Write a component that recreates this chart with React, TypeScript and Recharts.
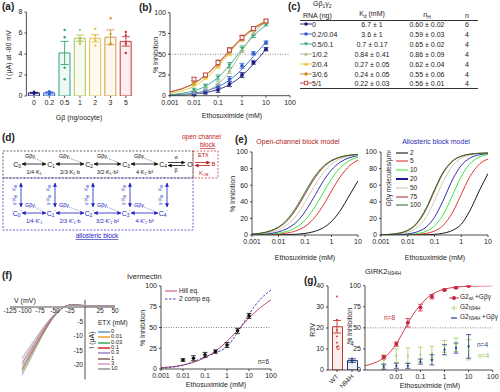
import {
  ComposedChart, Line, Bar, Cell, Scatter, XAxis, YAxis,
  ReferenceLine, ReferenceDot, ErrorBar,
} from "recharts";

const W = 500;
const H = 392;
const FONT = '"Liberation Sans", Arial, Helvetica, sans-serif';

// ---------- (a) basal current vs Gbeta RNA ----------
const aCats = ["0", "0.2", "0.5", "1", "2", "3", "5"];
const aMeans = [0.3, 0.3, 4.1, 5.5, 5.5, 5.6, 5.2];
const aSem = [0.05, 0.1, 1.1, 0.3, 0.35, 0.7, 0.45];
const aDots = [
  [0.2, 0.35, 0.3, 0.25, 0.4, 0.3],
  [0.15, 0.3, 0.45, 0.25],
  [6.3, 5.6, 2.7, 1.6],
  [6.3, 5.5, 5.3, 5.0],
  [6.4, 5.8, 5.3, 4.8],
  [7.4, 5.9, 5.0, 4.9],
  [6.1, 5.8, 5.0, 4.1],
];
const aColors = ["#1c1c7a", "#3060d0", "#2fa37a", "#b0c45a", "#e6c24a", "#d29a36", "#c8323c"];

// ---------- (b) dose-response per Gbg level ----------
const bX = [0.001, 0.003, 0.01, 0.03, 0.1, 0.3, 1, 3, 10];
const bFit0 = [0.5, 1.0, 2.0, 3.7, 7.4, 13.4, 24.2, 38.2, 56.0];
const bFit02 = [0.8, 1.5, 3.0, 5.6, 10.8, 18.8, 31.9, 47.3, 64.6];
const bFit05 = [1.4, 2.8, 5.9, 11.4, 22.0, 36.6, 55.8, 72.0, 84.9];
const bFit1 = [0.3, 0.8, 2.2, 5.4, 13.8, 29.2, 53.7, 74.9, 89.4];
const bFit2 = [3.0, 5.8, 11.5, 20.4, 35.1, 51.6, 69.3, 81.6, 90.4];
const bFit3 = [4.7, 8.2, 14.8, 24.2, 38.2, 53.1, 68.7, 80.0, 88.6];
const bFit5 = [4.7, 8.3, 15.0, 24.7, 39.2, 54.3, 70.0, 81.2, 89.4];
const bFits = [bFit0, bFit02, bFit05, bFit1, bFit2, bFit3, bFit5];

const bPX = [0.01, 0.03, 0.1, 0.3, 1, 3, 10];
const bPts0 = [2, 4, 7, 14, 25, 40, 56];
const bPts02 = [3, 6, 11, 20, 36, 51, 64];
const bPts05 = [7, 12, 22, 37, 57, 72, 86];
const bPts1 = [4, 8, 14, 30, 55, 75, 88];
const bPts2 = [14, 22, 36, 51, 69, 81, 90];
const bPts3 = [16, 24, 38, 53, 69, 80, 89];
const bPts5 = [20, 25, 40, 55, 70, 81, 90];
const bPts = [bPts0, bPts02, bPts05, bPts1, bPts2, bPts3, bPts5];
const bErr = [2, 2, 3, 3, 3, 2, 2];
const bColors = ["#1c1c7a", "#2f5fcf", "#2fa37a", "#a6b88c", "#e6c229", "#cc8a2a", "#c04040"];
const bMarks = ["c", "c", "td", "tu", "tu", "d", "sq"];

// ---------- (c) table ----------
const cRna = ["0", "0.2/0.04", "0.5/0.1", "1/0.2", "2/0.4", "3/0.6", "5/1"];
const cKd = ["6.7 ± 1", "3.6 ± 1", "0.7 ± 0.17", "0.84 ± 0.41", "0.27 ± 0.05", "0.24 ± 0.05", "0.22 ± 0.03"];
const cNh = ["0.60 ± 0.02", "0.59 ± 0.03", "0.65 ± 0.02", "0.86 ± 0.09", "0.62 ± 0.04", "0.55 ± 0.06", "0.56 ± 0.01"];
const cN = ["6", "4", "4", "4", "4", "4", "4"];

// ---------- (e) model simulations ----------
const eX = [0.001, 0.002, 0.005, 0.01, 0.02, 0.05, 0.1, 0.2, 0.5, 1, 2, 5, 10];
const eOpen2 = [0.02, 0.04, 0.1, 0.2, 0.39, 0.97, 1.9, 3.8, 8.9, 16.3, 28, 49, 65.3];
const eOpen5 = [0.12, 0.23, 0.57, 1.1, 2.3, 5.4, 10.3, 18.7, 36.3, 53, 68.8, 83.8, 90.3];
const eOpen10 = [0.22, 0.43, 1.1, 2.1, 4.2, 9.8, 17.8, 30.2, 51.6, 67.6, 80, 89.9, 93.8];
const eOpen20 = [0.39, 0.78, 1.9, 3.8, 7.3, 16.3, 28, 43.6, 65.3, 78.4, 87.1, 93.3, 95.6];
const eOpen50 = [0.65, 1.3, 3.2, 6.1, 11.5, 24.5, 39.2, 56, 75.4, 85.2, 91.2, 95.1, 96.6];
const eOpen75 = [0.97, 1.9, 4.7, 8.9, 16.3, 32.7, 49, 65.3, 81.7, 89.1, 93.3, 96.1, 97];
const eOpen100 = [1.1, 2.1, 5.2, 9.8, 17.8, 35, 51.6, 67.6, 83.1, 89.9, 93.8, 96.3, 97.1];
const eOpen = [eOpen2, eOpen5, eOpen10, eOpen20, eOpen50, eOpen75, eOpen100];

const eAllo2 = [0, 0, 0, 0.05, 0.1, 0.3, 0.8, 2, 6, 13, 28, 55, 74];
const eAllo5 = [0.01, 0.03, 0.1, 0.25, 0.6, 2, 4.7, 10.9, 28.6, 49, 69, 86, 91.5];
const eAllo10 = [0.03, 0.08, 0.25, 0.61, 1.48, 4.73, 10.9, 23.1, 49.5, 70.4, 85, 94.3, 97];
const eAllo20 = [0.07, 0.17, 0.55, 1.35, 3.25, 9.9, 21.3, 40, 68.3, 83.8, 92.2, 96.8, 98.1];
const eAllo50 = [0.18, 0.43, 1.41, 3.41, 8, 22.2, 41.1, 63, 84.3, 92.5, 96.2, 98.1, 98.7];
const eAllo75 = [0.28, 0.69, 2.2, 5.3, 12.2, 31.5, 53, 73.3, 89.4, 94.8, 97.2, 98.4, 98.8];
const eAllo100 = [0.31, 0.75, 2.43, 5.77, 13.1, 33.1, 54.7, 74.5, 90, 95.1, 97.4, 98.5, 98.8];
const eAllo = [eAllo2, eAllo5, eAllo10, eAllo20, eAllo50, eAllo75, eAllo100];
const eLevels = ["2", "5", "10", "20", "50", "75", "100"];
const eColors = ["#000000", "#e02020", "#30e030", "#1a1aa0", "#c8c4b0", "#a02828", "#1a6b1a"];

// ---------- (f) I-V traces ----------
const fV = [-105, -90, -75, -60, -50, -40, -30, -20, -10, 0, 25, 50];
const fI0 = [-23.5, -17.5, -11.5, -6.0, -3.0, -0.8, 0.5, 0.8, 0.7, 0.5, 0.5, 0.5];
const fI001 = [-22.8, -17.0, -11.2, -5.8, -2.9, -0.8, 0.5, 0.8, 0.7, 0.5, 0.5, 0.5];
const fI003 = [-22.1, -16.5, -10.8, -5.6, -2.8, -0.7, 0.5, 0.8, 0.7, 0.5, 0.5, 0.5];
const fI01 = [-21.4, -15.9, -10.5, -5.5, -2.7, -0.7, 0.5, 0.7, 0.6, 0.5, 0.5, 0.5];
const fI03 = [-20.4, -15.2, -10.0, -5.2, -2.6, -0.7, 0.5, 0.7, 0.6, 0.5, 0.5, 0.5];
const fI1 = [-19.5, -14.5, -9.5, -5.0, -2.5, -0.7, 0.4, 0.7, 0.6, 0.4, 0.4, 0.4];
const fI3 = [-18.6, -13.8, -9.1, -4.7, -2.4, -0.6, 0.4, 0.6, 0.6, 0.4, 0.4, 0.4];
const fI10 = [-17.6, -13.1, -8.6, -4.5, -2.3, -0.6, 0.4, 0.6, 0.5, 0.4, 0.4, 0.4];
const fTraces = [fI0, fI001, fI003, fI01, fI03, fI1, fI3, fI10];
const fConc = ["0", "0.01", "0.03", "0.1", "0.3", "1", "3", "10"];
const fColors = ["#6a9fd4", "#f2a93b", "#3cb371", "#d93030", "#9a8cc8", "#8c6a5a", "#e39acb", "#9a9a9a"];
const fVTicks = [-125, -100, -75, -50, -25, 25, 50];
const fITicks = [-5, -10, -15, -20];

// ---------- (f) ivermectin ----------
const ivX = [0.001, 0.003, 0.01, 0.03, 0.1, 0.3, 1, 3, 10, 30, 100];
const ivHill = [1.55, 2.7, 4.8, 8.0, 13.7, 21.5, 33.3, 46.4, 61.3, 73.2, 83.3];
const iv2comp = [1.0, 2.0, 4.5, 9.0, 14.5, 19.5, 27, 44, 66, 83, 95];
const ivPX = [0.01, 0.03, 0.1, 0.3, 1, 3, 10];
const ivPts = [10.8, 13, 17, 21, 29, 46, 64];
const ivErr = [1.5, 3, 3, 2, 3, 3, 3];

// ---------- (g) GIRK2 N94H ----------
const gCats = ["WT", "N94H"];
const gMeans = [20.6, 4.5];
const gSem = [3, 0.8];
const gDots = [[35, 24, 19, 16, 13, 11], [5.6, 4.6, 4.0, 3.6]];
const gBarColors = ["#c0392b", "#1f3f7f"];

const gCX = [0.0005, 0.001, 0.002, 0.005, 0.01, 0.02, 0.05, 0.1, 0.2, 0.5, 1, 3, 10, 100];
const gCurve = [5, 7.5, 11, 20, 31, 46, 66, 77, 86, 93, 96, 98.3, 99.4, 99.9];
const gPX = [0.003, 0.01, 0.03, 0.1, 0.3, 1, 3, 10];
const gWt = [15, 30.7, 56, 74, 87, 95, 97.5, 99.5];
const gWtErr = [2, 2.5, 5, 4, 2.5, 1, 0.8, 0.5];
const gMut = [12, 17, 17, 18, 20, 28, 30, 24];
const gMutErr = [6, 8, 9, 9, 8, 7, 8, 12];
const gMutG = [4, 5, 5, 10, 12, 24, 26, 28];
const gMutGErr = [3, 3, 3, 3, 6, 6, 6, 14];

const tk = { fontSize: 7, fill: "#222" };
const ax = { stroke: "#222", strokeWidth: 0.8 };

const mg = (x0: number, y0: number, x1: number, y1: number, yW = 0, xH = 0) => ({
  left: x0 - yW, top: y0, right: W - x1, bottom: H - y1 - xH,
});

const mark = (kind: string, color: string, s = 2) => (p: any) => {
  const { cx, cy } = p;
  if (cx == null || cy == null) return <g />;
  if (kind === "td") return <path d={`M${cx - s},${cy - s * 0.7}L${cx + s},${cy - s * 0.7}L${cx},${cy + s}Z`} fill={color} />;
  if (kind === "tu") return <path d={`M${cx - s},${cy + s * 0.7}L${cx + s},${cy + s * 0.7}L${cx},${cy - s}Z`} fill={color} />;
  if (kind === "d") return <path d={`M${cx},${cy - s * 1.2}L${cx + s},${cy}L${cx},${cy + s * 1.2}L${cx - s},${cy}Z`} fill={color} />;
  if (kind === "sq") return <rect x={cx - s} y={cy - s} width={2 * s} height={2 * s} fill="#fff" stroke={color} strokeWidth={0.9} />;
  if (kind === "none") return <g />;
  return <circle cx={cx} cy={cy} r={s} fill={color} />;
};

const T = ({ x, y, s = 7, c = "#222", a = "l", r = 0, b = false, i = false, children }: any) => (
  <div style={{
    position: "absolute", left: x, top: y, fontSize: s, color: c, lineHeight: 1, whiteSpace: "nowrap",
    fontWeight: b ? 700 : 400, fontStyle: i ? "italic" : "normal",
    transform: `translate(${a === "c" ? -50 : a === "r" ? -100 : 0}%, -50%) rotate(${r}deg)`,
  }}>{children}</div>
);

const Layer = ({ children }: any) => (
  <div style={{ position: "absolute", left: 0, top: 0, width: W, height: H }}>{children}</div>
);

const Sub = ({ children }: any) => <sub style={{ fontSize: "70%", verticalAlign: "-0.25em" }}>{children}</sub>;

function PanelA() {
  const rows = aCats.map((g, i) => ({ i, v: aMeans[i] }));
  return (
    <Layer>
      <ComposedChart width={W} height={H} data={rows} margin={mg(26.4, 12, 133.5, 96, 18, 12)}>
        <XAxis type="number" dataKey="i" domain={[-0.5, 6.5]} ticks={[0, 1, 2, 3, 4, 5, 6]} interval={0}
          tickFormatter={(v: number) => aCats[v]} tick={tk} tickSize={2} axisLine={false} tickLine={ax} height={12} allowDataOverflow />
        <YAxis type="number" domain={[0, 8]} ticks={[0, 2, 4, 6, 8]} interval={0} tick={tk} tickSize={2}
          axisLine={ax} tickLine={ax} width={18} allowDataOverflow />
        <Bar dataKey="v" barSize={11} isAnimationActive={false}>
          {aCats.map((g, i) => <Cell key={g} fill={aColors[i]} fillOpacity={0.08} stroke={aColors[i]} strokeWidth={1} />)}
        </Bar>
        {aCats.map((g, i) => (
          <Scatter key={"e" + g} data={[{ i, v: aMeans[i], e: aSem[i] }]} dataKey="v" shape={mark("none", "none")} isAnimationActive={false}>
            <ErrorBar dataKey="e" direction="y" width={4} stroke={aColors[i]} strokeWidth={0.9} />
          </Scatter>
        ))}
        {aCats.map((g, i) => (
          <Scatter key={"d" + g} data={aDots[i].map((v) => ({ i, v }))} dataKey="v" shape={mark("c", aColors[i], 1.2)} isAnimationActive={false} />
        ))}
      </ComposedChart>
    </Layer>
  );
}

function PanelB() {
  return (
    <Layer>
      <ComposedChart width={W} height={H} margin={mg(170, 12.7, 290, 95.7, 16, 12)}>
        <XAxis type="number" dataKey="x" scale="log" domain={[0.001, 100]} ticks={[0.001, 0.01, 0.1, 1, 10, 100]} interval={0}
          tick={tk} tickSize={2} axisLine={ax} tickLine={ax} height={12} allowDataOverflow />
        <YAxis type="number" domain={[0, 100]} ticks={[0, 25, 50, 75, 100]} interval={0} tick={tk} tickSize={2}
          axisLine={ax} tickLine={ax} width={16} allowDataOverflow />
        <ReferenceLine y={50} stroke="#555" strokeDasharray="1 1.5" strokeWidth={0.7} />
        {bFits.map((f, k) => (
          <Line key={"f" + k} data={bX.map((x, i) => ({ x, y: f[i] }))} dataKey="y" type="monotone" stroke={bColors[k]}
            strokeWidth={0.9} dot={false} isAnimationActive={false} />
        ))}
        {bPts.map((p, k) => (
          <Scatter key={"p" + k} data={bPX.map((x, i) => ({ x, y: p[i], e: bErr[i] }))} dataKey="y"
            shape={mark(bMarks[k], bColors[k], 1.9)} isAnimationActive={false}>
            <ErrorBar dataKey="e" direction="y" width={2.5} stroke={bColors[k]} strokeWidth={0.8} />
          </Scatter>
        ))}
      </ComposedChart>
    </Layer>
  );
}

function Glyph({ k }: { k: number }) {
  const c = bColors[k];
  const m = bMarks[k];
  let shape: any = <circle cx={6} cy={3} r={1.8} fill={c} />;
  if (m === "td") shape = <path d="M4,1.6L8,1.6L6,4.8Z" fill={c} />;
  if (m === "tu") shape = <path d="M4,4.4L8,4.4L6,1.2Z" fill={c} />;
  if (m === "d") shape = <path d="M6,0.8L8,3L6,5.2L4,3Z" fill={c} />;
  if (m === "sq") shape = <rect x={4.3} y={1.3} width={3.4} height={3.4} fill="#fff" stroke={c} strokeWidth={0.9} />;
  return (
    <svg width={12} height={6} style={{ position: "absolute", left: 0, top: 0 }}>
      <line x1={0} y1={3} x2={12} y2={3} stroke={c} strokeWidth={0.9} />
      {shape}
    </svg>
  );
}

function PanelC() {
  const y0 = 24;
  const dy = 9.9;
  return (
    <>
      <T x={313} y={5} s={7}>Gβ<Sub>1</Sub>γ<Sub>2</Sub></T>
      <T x={303} y={15} s={7}>RNA (ng)</T>
      <T x={372} y={15} s={7} a="c">K<Sub>d</Sub> (mM)</T>
      <T x={427} y={16} s={7} a="c">n<Sub>H</Sub></T>
      <T x={467} y={15} s={7} a="c">n</T>
      <div style={{ position: "absolute", left: 300, top: 19.5, width: 178, borderTop: "0.8px solid #333" }} />
      {cRna.map((r, i) => (
        <div key={r}>
          <div style={{ position: "absolute", left: 300, top: y0 + i * dy - 3, width: 12, height: 6 }}><Glyph k={i} /></div>
          <T x={312} y={y0 + i * dy} s={7}>{r}</T>
          <T x={372} y={y0 + i * dy} s={7} a="c">{cKd[i]}</T>
          <T x={427} y={y0 + i * dy} s={7} a="c">{cNh[i]}</T>
          <T x={467} y={y0 + i * dy} s={7} a="c">{cN[i]}</T>
        </div>
      ))}
      <div style={{ position: "absolute", left: 300, top: y0 + 6 * dy + 4.5, width: 178, borderTop: "0.8px solid #333" }} />
    </>
  );
}

function St({ x, y, c, n, p = false }: any) {
  return (
    <text x={x} y={y + 2.5} textAnchor="middle" fontSize={7} fill={c}>
      C<tspan fontSize={4.8} dy={1.5}>{n}</tspan>{p ? <tspan fontSize={5} dy={-3}>'</tspan> : null}
    </text>
  );
}

function Diagram() {
  const xs = [17, 51, 89, 126, 163];
  const ratesTop = ["1/4·K₁", "2/3·K₁·b", "3/2·K₁·b²", "4·K₁·b³"];
  const ratesBot = ["1/4·K'₁", "2/3·K'₁·b", "3/2·K'₁·b²", "4·K'₁·b³"];
  const rows = [
    { y: 164, c: "#111", m: "k", r: ratesTop, p: false },
    { y: 213, c: "#2222c0", m: "u", r: ratesBot, p: true },
  ];
  return (
    <svg width={W} height={H} style={{ position: "absolute", left: 0, top: 0 }} fontFamily={FONT}>
      <defs>
        {[["k", "#111"], ["u", "#2222c0"], ["r", "#c02020"]].map(([id, c]) => (
          <marker key={id} id={"ah" + id} viewBox="0 0 6 6" refX="5.5" refY="3" markerUnits="userSpaceOnUse"
            markerWidth="4" markerHeight="4" orient="auto-start-reverse">
            <path d="M0,0L6,3L0,6Z" fill={c} />
          </marker>
        ))}
      </defs>
      <rect x={3} y={151} width={190} height={27} fill="none" stroke="#222" strokeWidth={0.7} strokeDasharray="2 1.5" />
      <rect x={3} y={178} width={190} height={52} fill="none" stroke="#2222c0" strokeWidth={0.7} strokeDasharray="2 1.5" />
      <rect x={193} y={151} width={25} height={27} fill="none" stroke="#c02020" strokeWidth={0.7} strokeDasharray="2 1.5" />
      {rows.map((row) => (
        <g key={row.y}>
          {xs.map((x, i) => <St key={i} x={x} y={row.y} c={row.c} n={i} p={row.p} />)}
          {xs.slice(0, 4).map((x, i) => {
            const x2 = xs[i + 1];
            return (
              <g key={i}>
                <line x1={x + 5} y1={row.y} x2={x2 - 5} y2={row.y} stroke={row.c} strokeWidth={0.8}
                  markerStart={`url(#ah${row.m})`} markerEnd={`url(#ah${row.m})`} />
                <text x={x + 13} y={row.y - 6} fontSize={5.5} fill={row.c} textAnchor="middle">Gβγ</text>
                <line x1={x + 18} y1={row.y - 6} x2={x2 - 8} y2={row.y - 1.5} stroke={row.c} strokeWidth={0.5} strokeDasharray="1 1" />
                <text x={(x + x2) / 2} y={row.y + 9.5} fontSize={5.5} fill={row.c} textAnchor="middle">{row.r[i]}</text>
              </g>
            );
          })}
        </g>
      ))}
      {/* C4 <-> O */}
      <line x1={168} y1={162.5} x2={185} y2={162.5} stroke="#111" strokeWidth={0.8} markerEnd="url(#ahk)" />
      <line x1={185} y1={165.5} x2={168} y2={165.5} stroke="#111" strokeWidth={0.8} markerEnd="url(#ahk)" />
      <text x={176} y={159} fontSize={5.5} textAnchor="middle" fill="#111">α</text>
      <text x={176} y={172} fontSize={5.5} textAnchor="middle" fill="#111">β</text>
      <text x={190} y={166.5} fontSize={7} textAnchor="middle" fill="#111">O</text>
      {/* open channel block */}
      <text x={182} y={139} fontSize={6.5} fill="#c02020">open channel</text>
      <text x={200} y={147} fontSize={6.5} fill="#c02020" textDecoration="underline">block</text>
      <text x={198} y={157} fontSize={5.5} fill="#c02020">ETX</text>
      <line x1={195} y1={162.5} x2={210} y2={162.5} stroke="#c02020" strokeWidth={0.8} markerEnd="url(#ahr)" />
      <line x1={210} y1={165.5} x2={195} y2={165.5} stroke="#c02020" strokeWidth={0.8} markerEnd="url(#ahr)" />
      <text x={211.5} y={166} fontSize={6} fill="#c02020">B</text>
      <text x={199} y={174.5} fontSize={5.5} fill="#c02020">K<tspan fontSize={4} dy={1}>OB</tspan></text>
      {/* vertical transitions */}
      {xs.map((x, i) => (
        <g key={"v" + i}>
          <line x1={x + 4} y1={207} x2={x + 4} y2={183} stroke="#2222c0" strokeWidth={0.8}
            markerStart="url(#ahu)" markerEnd="url(#ahu)" />
          <text transform={`translate(${x - 1},${188}) rotate(-90)`} fontSize={5} fill="#2222c0" textAnchor="middle">K<tspan fontSize={3.8} dy={1}>B</tspan></text>
          <text transform={`translate(${x - 1},${200}) rotate(-90)`} fontSize={5} fill="#2222c0" textAnchor="middle">γ·K<tspan fontSize={3.8} dy={1}>B</tspan></text>
        </g>
      ))}
      <text x={97} y={238} fontSize={6.5} fill="#2222c0" textAnchor="middle" textDecoration="underline">allosteric block</text>
    </svg>
  );
}

function PanelE() {
  const xAx = (
    <XAxis type="number" dataKey="x" scale="log" domain={[0.001, 10]} ticks={[0.001, 0.01, 0.1, 1, 10]} interval={0}
      tick={tk} tickSize={2} axisLine={ax} tickLine={ax} height={12} allowDataOverflow />
  );
  const yAx = (
    <YAxis type="number" domain={[0, 100]} ticks={[0, 20, 40, 60, 80, 100]} interval={0} tick={tk} tickSize={2}
      axisLine={ax} tickLine={ax} width={16} allowDataOverflow />
  );
  return (
    <>
      <Layer>
        <ComposedChart width={W} height={H} margin={mg(252, 152, 358, 235, 16, 12)}>
          {xAx}
          {yAx}
          {eOpen.map((f, k) => (
            <Line key={k} data={eX.map((x, i) => ({ x, y: f[i] }))} dataKey="y" type="monotone" stroke={eColors[k]}
              strokeWidth={0.9} dot={false} isAnimationActive={false} />
          ))}
        </ComposedChart>
      </Layer>
      <Layer>
        <ComposedChart width={W} height={H} margin={mg(381, 152, 488, 235, 16, 12)}>
          {xAx}
          {yAx}
          {eAllo.map((f, k) => (
            <Line key={k} data={eX.map((x, i) => ({ x, y: f[i] }))} dataKey="y" type="monotone" stroke={eColors[k]}
              strokeWidth={0.9} dot={false} isAnimationActive={false} />
          ))}
        </ComposedChart>
      </Layer>
    </>
  );
}

function PanelF() {
  return (
    <>
      <Layer>
        <ComposedChart width={W} height={H} margin={mg(10, 299.75, 115, 379.5)}>
          <XAxis type="number" dataKey="x" domain={[-125, 50]} hide allowDataOverflow />
          <YAxis type="number" domain={[-25, 2.5]} hide allowDataOverflow />
          <ReferenceLine y={0} stroke="#222" strokeWidth={0.8} />
          <ReferenceLine x={0} stroke="#222" strokeWidth={0.8} />
          {fTraces.map((t, k) => (
            <Line key={k} data={fV.map((x, i) => ({ x, y: t[i] }))} dataKey="y" type="monotone" stroke={fColors[k]}
              strokeWidth={0.8} dot={false} isAnimationActive={false} />
          ))}
          {fVTicks.map((v) => (
            <ReferenceDot key={"v" + v} x={v} y={0} r={0} fill="none" stroke="none"
              label={{ value: String(v), position: "bottom", fontSize: 6.5, fill: "#222", offset: 1.5 }} />
          ))}
          {fITicks.map((v) => (
            <ReferenceDot key={"i" + v} x={0} y={v} r={0} fill="none" stroke="none"
              label={{ value: String(v), position: "left", fontSize: 6.5, fill: "#222", offset: 2 }} />
          ))}
        </ComposedChart>
      </Layer>
      <Layer>
        <ComposedChart width={W} height={H} margin={mg(161, 286, 271, 369, 16, 12)}>
          <XAxis type="number" dataKey="x" scale="log" domain={[0.001, 100]} ticks={[0.001, 0.01, 0.1, 1, 10, 100]} interval={0}
            tick={tk} tickSize={2} axisLine={ax} tickLine={ax} height={12} allowDataOverflow />
          <YAxis type="number" domain={[0, 100]} ticks={[0, 25, 50, 75, 100]} interval={0} tick={tk} tickSize={2}
            axisLine={ax} tickLine={ax} width={16} allowDataOverflow />
          <ReferenceLine y={50} stroke="#555" strokeDasharray="1 1.5" strokeWidth={0.7} />
          <Line data={ivX.map((x, i) => ({ x, y: ivHill[i] }))} dataKey="y" type="monotone" stroke="#c0304a"
            strokeWidth={0.9} dot={false} isAnimationActive={false} />
          <Line data={ivX.map((x, i) => ({ x, y: iv2comp[i] }))} dataKey="y" type="monotone" stroke="#2a3ab0"
            strokeWidth={0.9} strokeDasharray="2.5 1.5" dot={false} isAnimationActive={false} />
          <Scatter data={ivPX.map((x, i) => ({ x, y: ivPts[i], e: ivErr[i] }))} dataKey="y" shape={mark("c", "#111", 1.8)} isAnimationActive={false}>
            <ErrorBar dataKey="e" direction="y" width={2.5} stroke="#111" strokeWidth={0.8} />
          </Scatter>
        </ComposedChart>
      </Layer>
    </>
  );
}

function PanelG() {
  const rows = gCats.map((g, i) => ({ i, v: gMeans[i] }));
  const RotTick = (p: any) => (
    <text x={p.x + 2} y={p.y + 3} transform={`rotate(-45 ${p.x + 2} ${p.y + 3})`} textAnchor="end" fontSize={6.5} fill="#222">
      {gCats[p.payload.value]}
    </text>
  );
  return (
    <>
      <Layer>
        <ComposedChart width={W} height={H} data={rows} margin={mg(328, 286, 361, 370, 14, 16)}>
          <XAxis type="number" dataKey="i" domain={[-0.6, 1.6]} ticks={[0, 1]} interval={0} tick={RotTick}
            tickSize={2} axisLine={ax} tickLine={ax} height={16} allowDataOverflow />
          <YAxis type="number" domain={[0, 40]} ticks={[0, 10, 20, 30, 40]} interval={0} tick={tk} tickSize={2}
            axisLine={ax} tickLine={ax} width={14} allowDataOverflow />
          <Bar dataKey="v" barSize={10} isAnimationActive={false}>
            {gCats.map((g, i) => <Cell key={g} fill={gBarColors[i]} fillOpacity={0.08} stroke={gBarColors[i]} strokeWidth={1} />)}
          </Bar>
          {gCats.map((g, i) => (
            <Scatter key={"e" + g} data={[{ i, v: gMeans[i], e: gSem[i] }]} dataKey="v" shape={mark("none", "none")} isAnimationActive={false}>
              <ErrorBar dataKey="e" direction="y" width={4} stroke={gBarColors[i]} strokeWidth={0.9} />
            </Scatter>
          ))}
          {gCats.map((g, i) => (
            <Scatter key={"d" + g} data={gDots[i].map((v) => ({ i, v }))} dataKey="v" shape={mark("c", gBarColors[i], 0.9)} isAnimationActive={false} />
          ))}
        </ComposedChart>
      </Layer>
      <Layer>
        <ComposedChart width={W} height={H} margin={mg(365, 285.7, 492.7, 370, 16, 12)}>
          <XAxis type="number" dataKey="x" scale="log" domain={[0.0005, 100]} ticks={[0.01, 0.1, 1, 10, 100]} interval={0}
            tick={tk} tickSize={2} axisLine={ax} tickLine={ax} height={12} allowDataOverflow />
          <YAxis type="number" domain={[0, 100]} ticks={[0, 25, 50, 75, 100]} interval={0} tick={tk} tickSize={2}
            axisLine={ax} tickLine={ax} width={16} allowDataOverflow />
          <ReferenceLine y={50} stroke="#555" strokeDasharray="1 1.5" strokeWidth={0.7} />
          <Line data={gCX.map((x, i) => ({ x, y: gCurve[i] }))} dataKey="y" type="monotone" stroke="#c8283c"
            strokeWidth={0.9} dot={false} isAnimationActive={false} />
          <Scatter data={gPX.map((x, i) => ({ x, y: gMut[i], e: gMutErr[i] }))} dataKey="y" shape={mark("c", "#a8cf6a", 1.1)} isAnimationActive={false}>
            <ErrorBar dataKey="e" direction="y" width={2.5} stroke="#a8cf6a" strokeWidth={0.8} />
          </Scatter>
          <Scatter data={gPX.map((x, i) => ({ x, y: gMutG[i], e: gMutGErr[i] }))} dataKey="y" shape={mark("c", "#1f3f7f", 1.1)} isAnimationActive={false}>
            <ErrorBar dataKey="e" direction="y" width={2.5} stroke="#1f3f7f" strokeWidth={0.8} />
          </Scatter>
          <Scatter data={gPX.map((x, i) => ({ x, y: gWt[i], e: gWtErr[i] }))} dataKey="y" shape={mark("c", "#c8283c", 2)} isAnimationActive={false}>
            <ErrorBar dataKey="e" direction="y" width={2.5} stroke="#c8283c" strokeWidth={0.8} />
          </Scatter>
        </ComposedChart>
      </Layer>
    </>
  );
}

function Swatch({ x, y, c, w = 1, dash }: any) {
  return (
    <svg width={12} height={4} style={{ position: "absolute", left: x, top: y - 2 }}>
      <line x1={0} y1={2} x2={12} y2={2} stroke={c} strokeWidth={w} strokeDasharray={dash} />
    </svg>
  );
}

export default function App() {
  return (
    <div style={{ position: "absolute", left: 0, top: 0, width: W, height: H, background: "#fff", fontFamily: FONT, overflow: "hidden", color: "#222" }}>
      <PanelA />
      <PanelB />
      <PanelC />
      <Diagram />
      <PanelE />
      <PanelF />
      <PanelG />

      {/* panel letters */}
      <T x={2} y={7} s={10} b>(a)</T>
      <T x={139} y={8} s={10} b>(b)</T>
      <T x={288} y={7} s={10} b>(c)</T>
      <T x={2} y={138} s={10} b>(d)</T>
      <T x={235} y={140} s={10} b>(e)</T>
      <T x={2} y={276} s={10} b>(f)</T>
      <T x={304} y={281} s={10} b>(g)</T>

      {/* (a) labels */}
      <T x={8} y={55} s={7} a="c" r={-90}>I (μA) at -80 mV</T>
      <T x={79} y={117} s={7} a="c">Gβ (ng/oocyte)</T>

      {/* (b) labels */}
      <T x={155} y={55} s={7} a="c" r={-90}>% Inhibition</T>
      <T x={232} y={115} s={7} a="c">Ethosuximide (mM)</T>

      {/* (e) labels */}
      <T x={298} y={141} s={7} c="#b02020" a="c">Open-channel block model</T>
      <T x={436} y={141} s={7} c="#2a2ab0" a="c">Allosteric block model</T>
      <T x={232} y={194} s={7} a="c" r={-90}>% Inhibition</T>
      <T x={305} y={257} s={7} a="c">Ethosuximide (mM)</T>
      <T x={435} y={257} s={7} a="c">Ethosuximide (mM)</T>
      <T x={389} y={178} s={6.5} a="c" r={-90}>Gβγ molecules/μm²</T>
      {eLevels.map((l, i) => (
        <div key={l}>
          <Swatch x={396} y={152.5 + i * 8.8} c={eColors[i]} w={l === "20" ? 2 : 1} />
          <T x={410} y={152.5 + i * 8.8} s={6.5}>{l}</T>
        </div>
      ))}

      {/* (f) labels */}
      <T x={14} y={300} s={7}>V (mV)</T>
      <T x={91} y={340} s={7} a="c" r={-90}>I (μA)</T>
      <T x={98} y={323} s={6.5}>ETX (mM)</T>
      {fConc.map((l, i) => (
        <div key={l}>
          <Swatch x={98} y={332 + i * 5.3} c={fColors[i]} w={1.6} />
          <T x={111} y={332 + i * 5.3} s={5.8}>{l}</T>
        </div>
      ))}
      <T x={127} y={277} s={7.5}>Ivermectin</T>
      <T x={142} y={328} s={7} a="c" r={-90}>% Inhibition</T>
      <T x={216} y={384} s={7} a="c">Ethosuximide (mM)</T>
      <Swatch x={165} y={291} c="#c0304a" w={0.9} />
      <T x={179} y={291} s={6.5}>Hill eq.</T>
      <Swatch x={165} y={299} c="#2a3ab0" w={0.9} dash="2.5 1.5" />
      <T x={179} y={299} s={6.5}>2 comp eq.</T>
      <T x={258} y={362} s={6.5}>n=6</T>

      {/* (g) labels */}
      <T x={312} y={330} s={7} a="c" r={-90}>R3V</T>
      <T x={338} y={348} s={6.5} c="#c0392b" a="c">6</T>
      <T x={352} y={344} s={6.5} c="#1f3f7f" a="c">4</T>
      <T x={365} y={272} s={7.5}>GIRK2<Sub>N94H</Sub></T>
      <T x={349} y={326} s={7} a="c" r={-90}>% Inhibition</T>
      <T x={430} y={385} s={7} a="c">Ethosuximide (mM)</T>
      <T x={384} y={318} s={6.5} c="#c8283c">n=8</T>
      <T x={477} y={345} s={6.5} c="#1f3f7f">n=4</T>
      <T x={478} y={356} s={6.5} c="#8cbf48">n=4</T>
      <svg width={10} height={6} style={{ position: "absolute", left: 449, top: 295 }}>
        <line x1={0} y1={3} x2={10} y2={3} stroke="#c8283c" strokeWidth={0.9} />
        <circle cx={5} cy={3} r={2} fill="#c8283c" />
      </svg>
      <T x={460} y={298} s={6.5}>G2<Sub>wt</Sub> +Gβγ</T>
      <svg width={10} height={6} style={{ position: "absolute", left: 449, top: 305 }}>
        <line x1={5} y1={0} x2={5} y2={6} stroke="#a8cf6a" strokeWidth={0.8} />
        <line x1={2} y1={3} x2={8} y2={3} stroke="#a8cf6a" strokeWidth={0.8} />
      </svg>
      <T x={460} y={308} s={6.5}>G2<Sub>N94H</Sub></T>
      <svg width={10} height={6} style={{ position: "absolute", left: 449, top: 315 }}>
        <line x1={2} y1={3} x2={8} y2={3} stroke="#1f3f7f" strokeWidth={1.2} />
      </svg>
      <T x={460} y={318} s={6.5}>G2<Sub>N94H</Sub> +Gβγ</T>
    </div>
  );
}
